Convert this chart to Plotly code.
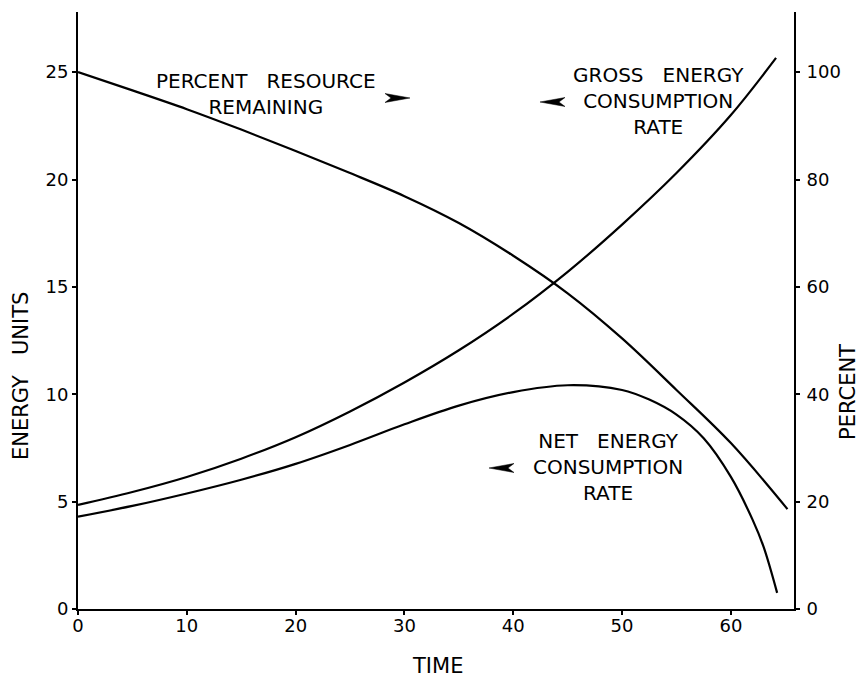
import plotly.graph_objects as go

# ---- data ----
time_gross = [0, 5, 10, 15, 20, 25, 30, 35, 40, 45, 50, 55, 60, 64.15]
gross_rate = [4.85, 5.45, 6.15, 7.0, 8.0, 9.2, 10.55, 12.05, 13.75, 15.7, 17.9, 20.3, 23.0, 25.66]

time_net = [0, 5, 10, 15, 20, 25, 30, 35, 40, 45, 50, 52.5, 55, 57.5, 60, 62, 63, 64.25]
net_rate = [4.3, 4.8, 5.38, 6.02, 6.76, 7.64, 8.6, 9.47, 10.1, 10.42, 10.2, 9.75, 9.05, 7.95,
            6.15, 4.15, 2.9, 0.75]

time_res = [0, 5, 10, 15, 20, 25, 30, 35, 40, 45, 50, 55, 60, 65.2]
resource_pct = [100, 96.6, 93.1, 89.3, 85.3, 81.2, 76.9, 71.9, 65.8, 58.8, 50.4, 40.8, 30.9, 18.6]

x_ticks = [0, 10, 20, 30, 40, 50, 60]
left_ticks = [0, 5, 10, 15, 20, 25]
right_ticks = [0, 20, 40, 60, 80, 100]

# ---- layout geometry ----
W, H = 859, 682
L, R, T, B = 78, 65, 12, 73
PW, PH = W - L - R, H - T - B
FONT = "DejaVu Sans"


def px(x, y):
    """pixel -> paper coordinates"""
    return (x - L) / PW, (H - B - y) / PH


def dart(tx, ty, direction):
    # dart-shaped arrowhead, tip at (tx, ty) in pixels
    s = 1 if direction == "right" else -1
    pts = [(tx, ty), (tx - s * 25, ty - 4.5), (tx - s * 19, ty), (tx - s * 25, ty + 4.5)]
    pp = [px(a, b) for a, b in pts]
    path = "M " + " L ".join(f"{a:.5f},{b:.5f}" for a, b in pp) + " Z"
    return dict(type="path", xref="paper", yref="paper", path=path,
                fillcolor="black", line=dict(color="black", width=0.5))


fig = go.Figure()
line = dict(color="black", width=2.2, shape="spline", smoothing=1.0)
fig.add_trace(go.Scatter(x=time_gross, y=gross_rate, mode="lines", line=line,
                         name="Gross energy consumption rate", yaxis="y"))
fig.add_trace(go.Scatter(x=time_net, y=net_rate, mode="lines", line=line,
                         name="Net energy consumption rate", yaxis="y"))
fig.add_trace(go.Scatter(x=time_res, y=resource_pct, mode="lines", line=line,
                         name="Percent resource remaining", yaxis="y2"))

axis_common = dict(showgrid=False, zeroline=False, showline=True, linecolor="black",
                   linewidth=2, ticks="outside", ticklen=4, tickwidth=1.5,
                   tickcolor="black", tickfont=dict(family=FONT, size=18, color="black"))

fig.update_layout(
    width=W, height=H,
    margin=dict(l=L, r=R, t=T, b=B, autoexpand=False),
    paper_bgcolor="white", plot_bgcolor="white",
    showlegend=False,
    xaxis=dict(range=[0, 65.8], tickvals=x_ticks, ticklabelstandoff=-5, **axis_common),
    yaxis=dict(range=[0, 27.8], tickvals=left_ticks, **axis_common),
    yaxis2=dict(range=[0, 111.2], tickvals=right_ticks, overlaying="y", side="right",
                ticklabelstandoff=3, **axis_common),
    shapes=[dart(410, 98, "right"), dart(540, 102, "left"), dart(489, 468, "left")],
)

ann = []


def add_text(text, x, y, size=20, angle=0):
    xp, yp = px(x, y)
    ann.append(dict(text=text, x=xp, y=yp, xref="paper", yref="paper", showarrow=False,
                    xanchor="center", yanchor="middle", align="center", textangle=angle,
                    font=dict(family=FONT, size=size, color="black")))


GAP = "\u00a0" * 3
add_text(f"PERCENT{GAP}RESOURCE<br>REMAINING", 266, 94)
add_text(f"GROSS{GAP}ENERGY<br>CONSUMPTION<br>RATE", 658, 101)
add_text(f"NET{GAP}ENERGY<br>CONSUMPTION<br>RATE", 608, 467)
# axis titles
add_text(f"ENERGY{GAP}UNITS", 21, 376, size=21, angle=-90)
add_text("PERCENT", 848, 392, size=21, angle=-90)
add_text("TIME", 437, 666, size=21)

fig.update_layout(annotations=ann)
fig.write_html("out.html")
